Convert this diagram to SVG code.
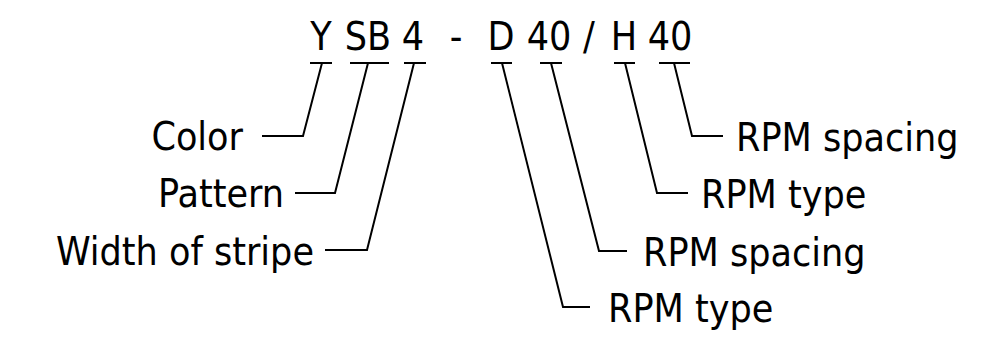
<svg xmlns="http://www.w3.org/2000/svg" width="1004" height="337" viewBox="0 0 1004 337">
<style>
text{font-family:"DejaVu Sans","Liberation Sans",sans-serif;font-stretch:condensed;font-size:39px;fill:#000}
.c{text-anchor:middle}
.e{text-anchor:end}
.ln{fill:none;stroke:#000;stroke-width:2;stroke-linejoin:miter}
</style>
<rect width="1004" height="337" fill="#fff"/>
<g id="code">
<text class="c" x="321" y="50">Y</text>
<text class="c" x="368" y="50">SB</text>
<text class="c" x="413" y="50">4</text>
<text class="c" x="456" y="50">-</text>
<text class="c" x="501" y="50">D</text>
<text class="c" x="549" y="50">40</text>
<text class="c" x="589" y="50">/</text>
<text class="c" x="624" y="50">H</text>
<text class="c" x="670" y="50">40</text>
</g>
<g id="connectors">
<path class="ln" d="M310 63H332M322 63L303 136H262"/>
<path class="ln" d="M350 63H389M368 63L335 193H295"/>
<path class="ln" d="M404 63H426M414 63L367 250H325"/>
<path class="ln" d="M491 63H512M502 63L563 307H590"/>
<path class="ln" d="M540 63H562M551 63L599 251H627"/>
<path class="ln" d="M614 63H635M625 63L657 193H688"/>
<path class="ln" d="M659 63H690M674 63L692 136H723"/>
</g>
<g id="label-color"><text class="e" x="243" y="150">Color</text></g>
<g id="label-pattern"><text class="e" x="284" y="207">Pattern</text></g>
<g id="label-width"><text class="e" x="314" y="265">Width of stripe</text></g>
<g id="label-rpm-type-1"><text x="608" y="322">RPM type</text></g>
<g id="label-rpm-spacing-1"><text x="643" y="266">RPM spacing</text></g>
<g id="label-rpm-type-2"><text x="701" y="208">RPM type</text></g>
<g id="label-rpm-spacing-2"><text x="736" y="151">RPM spacing</text></g>
</svg>
